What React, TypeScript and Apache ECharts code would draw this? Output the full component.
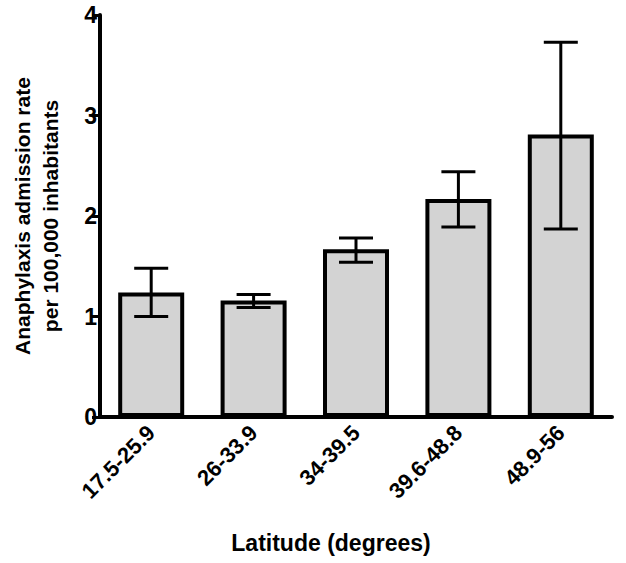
import React, { useEffect, useRef } from "react";
import * as echarts from "echarts";

const categories = ["17.5-25.9", "26-33.9", "34-39.5", "39.6-48.8", "48.9-56"];
const means = [1.24, 1.16, 1.67, 2.17, 2.81];
const lows = [1.0, 1.09, 1.54, 1.89, 1.87];
const highs = [1.48, 1.22, 1.78, 2.44, 3.73];
const yTicks = { min: 0, max: 4, interval: 1 };
const yName = "Anaphylaxis admission rate\nper 100,000 inhabitants";
const xName = "Latitude (degrees)";

const FONT = "Liberation Sans, Arial, sans-serif";

export default function App() {
  const ref = useRef<HTMLDivElement>(null);
  useEffect(() => {
    if (!ref.current) return;
    const chart = echarts.init(ref.current, null, { renderer: "svg" });
    const errData = categories.map((_, i) => [i, lows[i], highs[i]]);
    chart.setOption({
      animation: false,
      backgroundColor: "#fff",
      grid: { left: 98, right: 14, top: 15, bottom: 146 },
      xAxis: {
        type: "category",
        data: categories,
        name: xName,
        nameLocation: "middle",
        nameGap: 114,
        nameTextStyle: {
          fontFamily: FONT,
          fontWeight: "bold",
          fontSize: 23,
          color: "#000",
          padding: [0, 50, 0, 0],
        },
        axisLine: { lineStyle: { color: "#000", width: 4 } },
        axisTick: { alignWithLabel: true, length: 8, lineStyle: { color: "#000", width: 3 } },
        axisLabel: {
          rotate: 45,
          margin: 12,
          fontFamily: FONT,
          fontWeight: "bold",
          fontSize: 22,
          color: "#000",
        },
      },
      yAxis: {
        type: "value",
        min: yTicks.min,
        max: yTicks.max,
        interval: yTicks.interval,
        name: yName,
        nameLocation: "middle",
        nameGap: 36,
        nameRotate: 90,
        nameTextStyle: {
          fontFamily: FONT,
          fontWeight: "bold",
          fontSize: 21,
          lineHeight: 28,
          color: "#000",
        },
        splitLine: { show: false },
        axisLine: { show: true, lineStyle: { color: "#000", width: 4 } },
        axisTick: { show: true, length: 8, lineStyle: { color: "#000", width: 3 } },
        axisLabel: {
          margin: 3,
          fontFamily: FONT,
          fontWeight: "bold",
          fontSize: 23,
          color: "#000",
        },
      },
      series: [
        {
          type: "bar",
          data: means,
          barWidth: 66,
          itemStyle: { color: "#d3d3d3", borderColor: "#000", borderWidth: 4 },
        },
        {
          type: "custom",
          data: errData,
          z: 10,
          renderItem: (params: any, api: any) => {
            const x = api.value(0);
            const lo = api.coord([x, api.value(1)]);
            const hi = api.coord([x, api.value(2)]);
            const h = 17;
            const style = { stroke: "#000", lineWidth: 3 };
            return {
              type: "group",
              children: [
                { type: "line", shape: { x1: lo[0], y1: lo[1], x2: hi[0], y2: hi[1] }, style },
                { type: "line", shape: { x1: hi[0] - h, y1: hi[1], x2: hi[0] + h, y2: hi[1] }, style },
                { type: "line", shape: { x1: lo[0] - h, y1: lo[1], x2: lo[0] + h, y2: lo[1] }, style },
              ],
            };
          },
        },
      ],
    });
    return () => chart.dispose();
  }, []);
  return (
    <div
      ref={ref}
      style={{ position: "fixed", left: 0, top: 0, width: 626, height: 563 }}
    />
  );
}
